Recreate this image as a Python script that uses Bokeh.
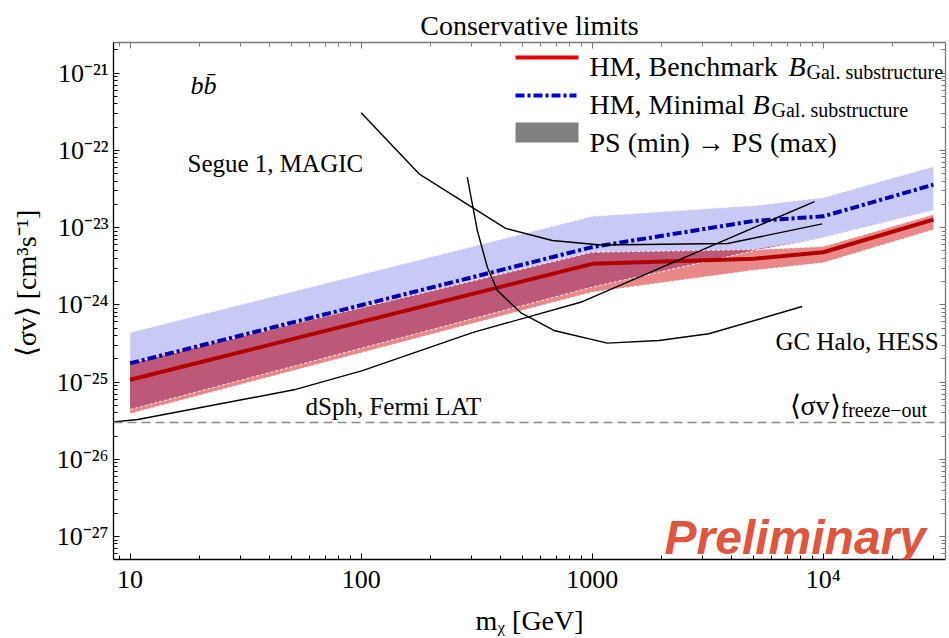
import numpy as np
from bokeh.plotting import figure
from bokeh.models import (Range1d, LogAxis, FixedTicker, CustomJSTickFormatter,
                          Label, Span, BoxAnnotation, Arrow)
from bokeh.embed import file_html
from bokeh.resources import INLINE

# ---------------- data ----------------
mass = [10, 1000, 5000, 10000, 30000]                       # m_chi [GeV]
hm_benchmark = [1.07e-25, 3.4e-24, 3.96e-24, 4.8e-24, 1.27e-23]
hm_minimal = [1.75e-25, 5.6e-24, 1.22e-23, 1.4e-23, 3.6e-23]
ps_bench_low = [3.9e-26, 1.46e-24, 2.8e-24, 3.5e-24, 9.4e-24]
ps_bench_high = [1.75e-25, 4.8e-24, 5.2e-24, 5.7e-24, 1.48e-23]
ps_min_low = [4.4e-26, 1.7e-24, 5.0e-24, 7.4e-24, 1.67e-23]
ps_min_high = [4.4e-25, 1.4e-23, 1.93e-23, 2.45e-23, 6.2e-23]

fermi_mass = [8.0, 10.8, 51.2, 101.3, 307.7, 891, 9170]
fermi_sv = [3.0e-26, 3.27e-26, 7.94e-26, 1.41e-25, 4.43e-25, 1.08e-24, 2.18e-23]

magic_mass = [100, 178, 422, 672, 1088, 3855, 9900]
magic_sv = [3.07e-22, 4.98e-23, 9.8e-24, 6.81e-24, 5.96e-24, 6.23e-24, 1.12e-23]

hess_mass = [288, 318.4, 351.8, 388.8, 490, 683, 1163, 1945, 3199, 8110]
hess_sv = [4.5e-23, 9.18e-24, 3.07e-24, 1.53e-24, 7.96e-25, 4.66e-25,
           3.19e-25, 3.46e-25, 4.22e-25, 9.52e-25]

freeze_out = 3e-26

x_major = [10, 100, 1000, 10000]
y_major = [1e-27, 1e-26, 1e-25, 1e-24, 1e-23, 1e-22, 1e-21]

# ---------------- layout helpers ----------------
XL, XR = 0.9281, 4.5294
YB, YT = -27.298, -20.602
FL, FR, FT, FB = 113, 945, 42, 559


def px_x(px):
    return 10 ** (XL + (px - FL) / (FR - FL) * (XR - XL))


def px_y(py):
    return 10 ** (YB + (FB - py) / (FB - FT) * (YT - YB))


SERIF = "Liberation Serif"

p = figure(width=949, height=638, x_axis_type="log", y_axis_type="log",
           x_range=Range1d(10 ** XL, 10 ** XR), y_range=Range1d(10 ** YB, 10 ** YT),
           output_backend="svg", toolbar_location=None,
           min_border_left=FL, min_border_right=949 - FR,
           min_border_top=FT, min_border_bottom=638 - FB,
           title="Conservative limits")
p.grid.visible = False
p.outline_line_color = None
p.background_fill_color = "white"
p.border_fill_color = "white"
p.title.align = "center"
p.title.text_font = SERIF
p.title.text_font_size = "28px"
p.title.text_font_style = "normal"
p.title.text_color = "black"
p.title.standoff = 4

x_minor = [m * 10.0 ** e for e in range(0, 5) for m in range(2, 10)]
y_minor = [m * 10.0 ** e for e in range(-28, -20) for m in range(2, 10)]

SUP = """const sup = {"-":"\u207b","0":"\u2070","1":"\u00b9","2":"\u00b2","3":"\u00b3","4":"\u2074",
             "5":"\u2075","6":"\u2076","7":"\u2077","8":"\u2078","9":"\u2079"};
const e = Math.round(Math.log10(tick));
"""
x_fmt = CustomJSTickFormatter(code=SUP + """
if (e <= 3) { return String(Math.round(Math.pow(10, e))); }
return "10" + String(e).split("").map(c => sup[c]).join("");
""")
y_fmt = CustomJSTickFormatter(code=SUP + """
return "10" + String(e).split("").map(c => sup[c]).join("");
""")
blank_fmt = CustomJSTickFormatter(code="return ' ';")


def style_axis(ax, color, labels=True):
    ax.axis_line_color = color
    ax.axis_line_width = 1.3
    ax.major_tick_line_color = color
    ax.minor_tick_line_color = color
    ax.major_tick_in = 6
    ax.major_tick_out = 0
    ax.minor_tick_in = 4
    ax.minor_tick_out = 0
    ax.major_label_text_font = SERIF
    ax.major_label_text_color = "black"
    ax.axis_label_text_font = SERIF
    ax.axis_label_text_font_size = "28px"
    ax.axis_label_text_font_style = "normal"
    ax.axis_label_text_color = "black"
    if labels:
        ax.major_label_text_font_size = "26px"
        ax.major_label_standoff = 5
    else:
        ax.major_label_text_font_size = "2px"
        ax.major_label_standoff = 0
        ax.major_label_text_alpha = 0


p.xaxis.ticker = FixedTicker(ticks=x_major, minor_ticks=x_minor)
p.yaxis.ticker = FixedTicker(ticks=y_major, minor_ticks=y_minor)
p.xaxis.formatter = x_fmt
p.yaxis.formatter = y_fmt
for ax in p.xaxis + p.yaxis:
    style_axis(ax, "black")
p.xaxis.axis_label = "m\u1d6a [GeV]"
p.xaxis.axis_label_standoff = 8
p.yaxis.axis_label = "\u00a0" * 5 + "\u27e8\u03c3v\u27e9 [cm\u00b3s\u207b\u00b9]"
p.yaxis.axis_label_standoff = 12

top_ax = LogAxis(ticker=FixedTicker(ticks=x_major, minor_ticks=x_minor), formatter=blank_fmt)
right_ax = LogAxis(ticker=FixedTicker(ticks=y_major, minor_ticks=y_minor), formatter=blank_fmt)
style_axis(top_ax, "#777777", labels=False)
style_axis(right_ax, "#777777", labels=False)
p.add_layout(top_ax, "above")
p.add_layout(right_ax, "right")

# ---------------- bands ----------------
lavender = "#c9c9f6"
salmon = "#e98888"
mauve = "#bd5878"
p.varea(x=mass, y1=ps_min_low, y2=ps_min_high, fill_color=lavender, fill_alpha=1)
p.varea(x=mass, y1=ps_bench_low, y2=ps_bench_high, fill_color=salmon, fill_alpha=1)
ov_lo = np.maximum(ps_bench_low, ps_min_low)
ov_hi = np.maximum(np.minimum(ps_bench_high, ps_min_high), ov_lo)
p.varea(x=mass, y1=ov_lo, y2=ov_hi, fill_color=mauve, fill_alpha=1)

for edge in (ps_min_high, ps_min_low, ps_bench_high, ps_bench_low):
    p.line(mass, edge, line_color="white", line_width=1, line_dash="3 2", line_alpha=0.9)

# ---------------- HM lines ----------------
p.line(mass, hm_benchmark, line_color="#b30000", line_width=4)
p.line(mass, hm_minimal, line_color="#0000b0", line_width=4, line_dash="9 3 3 3")

# ---------------- experimental limits ----------------
for xs, ys in ((fermi_mass, fermi_sv), (magic_mass, magic_sv), (hess_mass, hess_sv)):
    p.line(xs, ys, line_color="black", line_width=1.4)

p.add_layout(Span(location=freeze_out, dimension="width", line_color="#8a8a8a",
                  line_width=1.5, line_dash="9 5"))


# ---------------- texts ----------------
def lab(text, px, py, size, font=SERIF, style="normal", align="left",
        baseline="alphabetic", color="black", angle=0):
    p.add_layout(Label(x=px_x(px), y=px_y(py), text=text, text_font=font,
                       text_font_size=f"{size}px", text_font_style=style,
                       text_align=align, text_baseline=baseline,
                       text_color=color, angle=angle))


lab("b\u0062\u0304", 190, 85, 26, style="italic")
lab("Segue 1, MAGIC", 187, 163, 25)
lab("dSph, Fermi LAT", 305, 406, 25)
lab("GC Halo, HESS", 775, 341, 25)
lab("\u27e8\u03c3v\u27e9", 789, 405, 28)
lab("freeze\u2212out", 841, 409, 20)
lab("Preliminary", 664, 537, 48, font="Liberation Sans", style="bold italic",
    color="#e0553d")

# ---------------- legend ----------------
p.add_layout(Arrow(start=None, end=None, x_start=px_x(515), y_start=px_y(57),
                   x_end=px_x(578), y_end=px_y(57), line_color="#e60000", line_width=4))
p.add_layout(Arrow(start=None, end=None, x_start=px_x(515), y_start=px_y(95),
                   x_end=px_x(576), y_end=px_y(95), line_color="#0000e6", line_width=4,
                   line_dash="9 3 3 3"))
p.add_layout(BoxAnnotation(left=px_x(515), right=px_x(578), top=px_y(122),
                           bottom=px_y(142), fill_color="#808080", fill_alpha=1,
                           line_color=None))
lab("HM, Benchmark", 589, 66, 28)
lab("B", 788, 66, 28, style="italic")
lab("Gal. substructure", 806, 71, 20)
lab("HM, Minimal", 589, 104, 28)
lab("B", 752, 104, 28, style="italic")
lab("Gal. substructure", 771, 109, 20)
lab("PS (min) \u2192  PS (max)", 589, 142, 28)

open("out.html", "w").write(file_html(p, INLINE))
